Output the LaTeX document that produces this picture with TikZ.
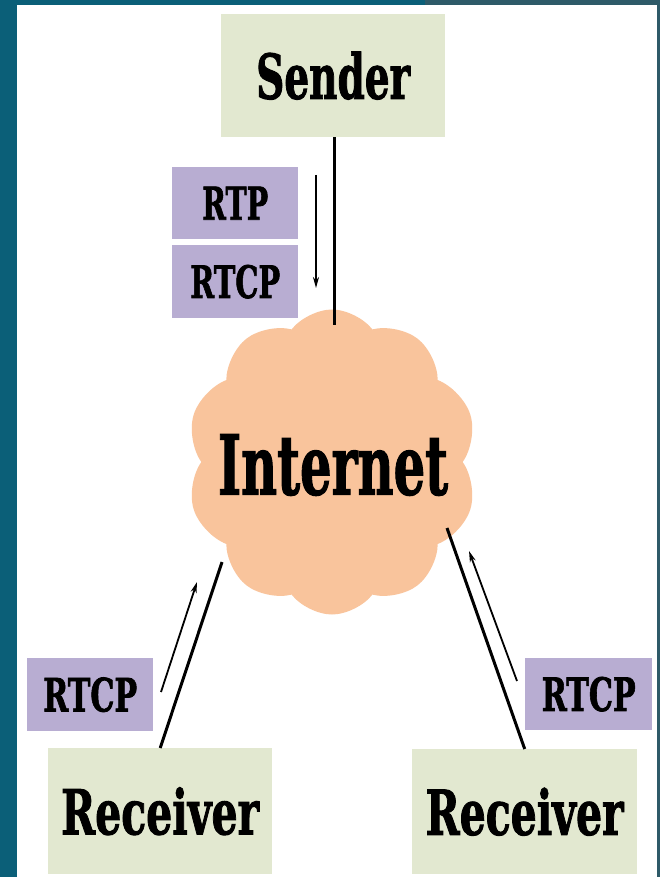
\documentclass[tikz,border=0pt]{standalone}
\usepackage{fontspec}
\setmainfont{DejaVu Serif}[BoldFeatures={FakeBold=1.8}]
\usetikzlibrary{shapes.symbols,arrows.meta}

\definecolor{frame}{HTML}{0B5F78}
\definecolor{frameedge}{HTML}{2E5A68}
\definecolor{hostfill}{HTML}{E2E8D0}
\definecolor{protofill}{HTML}{B8ADD2}
\definecolor{cloudfill}{HTML}{F9C49C}

% bold label squeezed to a given width and height
\newcommand\slab[3]{\resizebox{#1}{#2}{\bfseries #3}}

\tikzset{
  hostbox/.style={fill=hostfill, inner sep=0pt, anchor=north west},
  protobox/.style={fill=protofill, inner sep=0pt, anchor=north west},
  link/.style={line width=3pt, black},
  flow/.style={line width=1.8pt, black, -{Stealth[length=11pt,width=6pt]}},
}

\begin{document}
\begin{tikzpicture}[x=1pt,y=-1pt]
  % frame and white page
  \fill[frame] (0,0) rectangle (660,877);
  \fill[frameedge] (425,0) rectangle (660,5);
  \fill[frameedge] (657,0) rectangle (660,877);
  \fill[white] (17,5) rectangle (657,877);
  \useasboundingbox (0,0) rectangle (660,877);

  % hosts
  \node[hostbox, minimum width=224pt, minimum height=123pt] (sender) at (221,14)
    {\slab{154pt}{47pt}{Sender}};
  \node[hostbox, minimum width=224pt, minimum height=126pt] (recvL) at (48,748)
    {\slab{198pt}{47pt}{Receiver}};
  \node[hostbox, minimum width=225pt, minimum height=125pt] (recvR) at (412,749)
    {\slab{198pt}{47pt}{Receiver}};

  % protocol labels
  \node[protobox, minimum width=126pt, minimum height=72pt] (rtp) at (172,167)
    {\slab{66pt}{33pt}{RTP}};
  \node[protobox, minimum width=126pt, minimum height=73pt] (rtcpS) at (172,245)
    {\slab{90pt}{33pt}{RTCP}};
  \node[protobox, minimum width=126pt, minimum height=73pt] (rtcpL) at (27,658)
    {\slab{94pt}{34pt}{RTCP}};
  \node[protobox, minimum width=127pt, minimum height=72pt] (rtcpR) at (525,658)
    {\slab{94pt}{34pt}{RTCP}};

  % the network
  \node[cloud, cloud puffs=10, cloud puff arc=105, cloud ignores aspect,
        fill=cloudfill, inner sep=0pt,
        minimum width=291pt, minimum height=305pt] (net) at (332,462) {};
  \node (netlabel) at (333,465) {\slab{230pt}{60pt}{Internet}};

  % attachment points on the cloud and ends of the flow arrows
  \coordinate (netTop) at (334,325);
  \coordinate (netL) at (222,562);
  \coordinate (netR) at (447,528);
  \coordinate (rtpA) at (316,175);
  \coordinate (rtpB) at (316,288);
  \coordinate (upLA) at (161,692);
  \coordinate (upLB) at (197,582);
  \coordinate (upRA) at (517,681);
  \coordinate (upRB) at (469,551);

  % links
  \draw[link] (sender.south -| netTop) -- (netTop);
  \draw[link] (recvL.north) -- (netL);
  \draw[link] (recvR.north) -- (netR);

  % traffic directions
  \draw[flow] (rtpA) -- (rtpB);
  \draw[flow] (upLA) -- (upLB);
  \draw[flow] (upRA) -- (upRB);
\end{tikzpicture}
\end{document}
